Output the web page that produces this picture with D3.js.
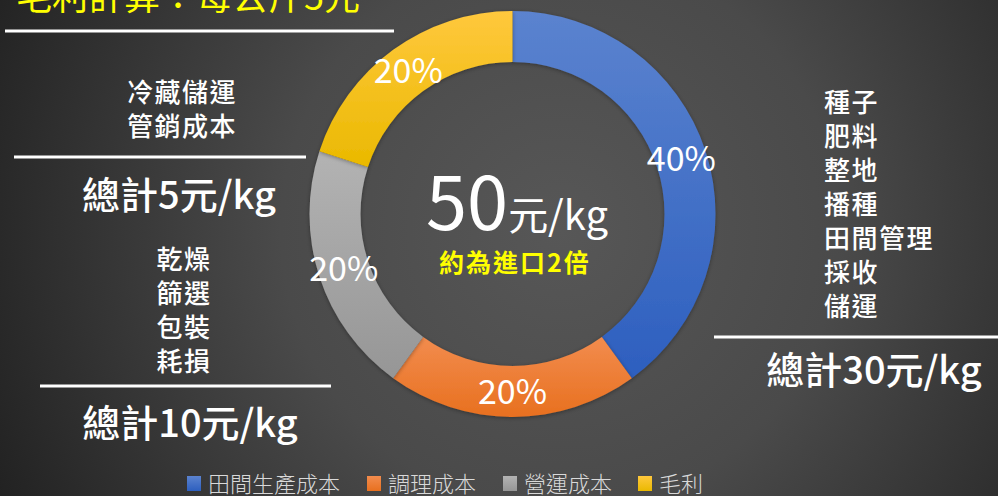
<!DOCTYPE html>
<html>
<head>
<meta charset="utf-8">
<script src="https://cdn.jsdelivr.net/npm/d3@7"></script>
<style>
  html, body { margin: 0; padding: 0; background: #333; }
  svg { display: block; font-family: "Noto Sans CJK TC", "Noto Sans", sans-serif; }
</style>
</head>
<body>
<svg id="chart"></svg>
<script>
// slice data
const categories = ['田間生產成本', '調理成本', '營運成本', '毛利'];
const values = [40, 20, 20, 20];
const colorTop = ['#5b83cf', '#f28c4e', '#b3b3b3', '#ffc83d'];
const colorBottom = ['#2d5fbf', '#e8701f', '#969696', '#eab900'];

// side notes
const titleText = '毛利計算：每公斤5元';
const centerMain = '50';
const centerUnit = '元/kg';
const centerSub = '約為進口2倍';
const noteSales = ['冷藏儲運', '管銷成本'];
const totalSales = '總計5元/kg';
const noteProcess = ['乾燥', '篩選', '包裝', '耗損'];
const totalProcess = '總計10元/kg';
const noteField = ['種子', '肥料', '整地', '播種', '田間管理', '採收', '儲運'];
const totalField = '總計30元/kg';

const width = 998, height = 496;
const cx = 512.5, cy = 214, rOuter = 203, rInner = 152;

const svg = d3.select('#chart')
  .attr('width', width)
  .attr('height', height);

const defs = svg.append('defs');

// background
const bg = defs.append('radialGradient')
  .attr('id', 'bg')
  .attr('gradientUnits', 'userSpaceOnUse')
  .attr('cx', 560).attr('cy', 230).attr('r', 620);
bg.append('stop').attr('offset', '0').attr('stop-color', '#575757');
bg.append('stop').attr('offset', '0.45').attr('stop-color', '#4a4a4a');
bg.append('stop').attr('offset', '1').attr('stop-color', '#222222');

svg.append('rect')
  .attr('width', width).attr('height', height)
  .attr('fill', 'url(#bg)');

categories.forEach((c, i) => {
  const g = defs.append('linearGradient')
    .attr('id', 'slice' + i)
    .attr('x1', 0).attr('y1', 0).attr('x2', 0).attr('y2', 1);
  g.append('stop').attr('offset', '0').attr('stop-color', colorTop[i]);
  g.append('stop').attr('offset', '1').attr('stop-color', colorBottom[i]);
});

const shadow = defs.append('filter').attr('id', 'shadow')
  .attr('x', '-10%').attr('y', '-10%').attr('width', '120%').attr('height', '120%');
shadow.append('feDropShadow')
  .attr('dx', 0).attr('dy', 1).attr('stdDeviation', 2)
  .attr('flood-color', '#000').attr('flood-opacity', 0.35);

// donut
const pie = d3.pie().sort(null).value(d => d);
const arc = d3.arc().innerRadius(rInner).outerRadius(rOuter);
const arcs = pie(values);

const donut = svg.append('g')
  .attr('transform', `translate(${cx},${cy})`);

donut.selectAll('path')
  .data(arcs)
  .enter()
  .append('path')
  .attr('d', arc)
  .attr('fill', (d, i) => `url(#slice${i})`)
  .attr('filter', 'url(#shadow)');

donut.selectAll('text.pct')
  .data(arcs)
  .enter()
  .append('text')
  .attr('class', 'pct')
  .attr('transform', d => `translate(${arc.centroid(d)})`)
  .attr('text-anchor', 'middle')
  .attr('dy', '0.36em')
  .attr('fill', '#fff')
  .style('font-size', '34px')
  .text(d => d3.format('.0%')(d.data / d3.sum(values)));

// center text
const ct = svg.append('text')
  .attr('x', 517).attr('y', 230)
  .attr('text-anchor', 'middle')
  .attr('fill', '#fff');
ct.append('tspan').style('font-size', '74px').text(centerMain);
ct.append('tspan').style('font-size', '40px').text(centerUnit);

svg.append('text')
  .attr('x', 515).attr('y', 272)
  .attr('text-anchor', 'middle')
  .attr('fill', '#ffff00')
  .style('font-size', '25px')
  .style('font-weight', 'bold')
  .style('letter-spacing', '2px')
  .text(centerSub);

// title
svg.append('text')
  .attr('x', 16).attr('y', 10)
  .attr('fill', '#ffff00')
  .style('font-size', '36px')
  .text(titleText);
svg.append('line')
  .attr('x1', 5).attr('x2', 394).attr('y1', 31).attr('y2', 31)
  .attr('stroke', '#fff').attr('stroke-width', 3);

function lines(items, x, y0, anchor) {
  svg.append('g').selectAll('text')
    .data(items)
    .enter()
    .append('text')
    .attr('x', x)
    .attr('y', (d, i) => y0 + i * 34)
    .attr('dy', '0.35em')
    .attr('text-anchor', anchor)
    .attr('fill', '#fff')
    .style('font-size', '26px')
    .style('font-weight', '500')
    .style('letter-spacing', '1.5px')
    .text(d => d);
}

function total(text, x, y) {
  svg.append('text')
    .attr('x', x).attr('y', y)
    .attr('dy', '0.35em')
    .attr('text-anchor', 'middle')
    .attr('fill', '#fff')
    .style('font-size', '38px')
    .style('font-weight', '500')
    .text(text);
}

function rule(x1, x2, y) {
  svg.append('line')
    .attr('x1', x1).attr('x2', x2).attr('y1', y).attr('y2', y)
    .attr('stroke', '#fff').attr('stroke-width', 3);
}

lines(noteSales, 182, 93, 'middle');
rule(14, 306, 157);
total(totalSales, 179, 196);

lines(noteProcess, 184, 260, 'middle');
rule(40, 331, 386);
total(totalProcess, 190, 424);

lines(noteField, 824, 103, 'start');
rule(714, 998, 337);
total(totalField, 874, 371);

// legend
const legendX = [187, 367, 503, 638];
const legend = svg.append('g').selectAll('g')
  .data(categories)
  .enter()
  .append('g')
  .attr('transform', (d, i) => `translate(${legendX[i]},476)`);

legend.append('rect')
  .attr('width', 14).attr('height', 15)
  .attr('fill', (d, i) => `url(#slice${i})`);

legend.append('text')
  .attr('x', 21).attr('y', 8)
  .attr('dy', '0.35em')
  .attr('fill', '#d9d9d9')
  .style('font-size', '22px')
  .style('font-weight', '300')
  .text(d => d);
</script>
</body>
</html>
